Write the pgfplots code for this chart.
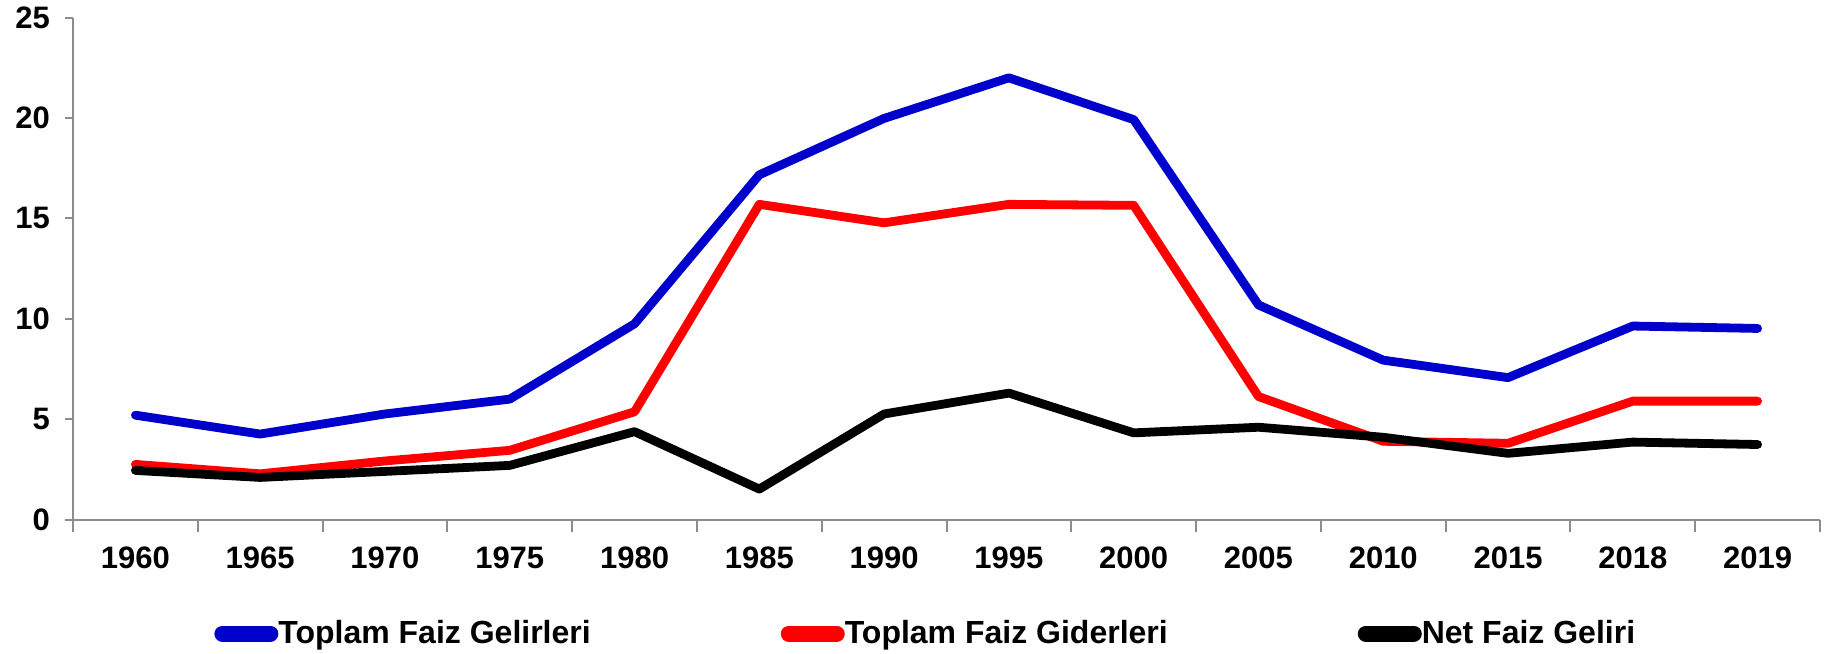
\documentclass[border=0pt]{standalone}
\usepackage{pgfplots}
\pgfplotsset{compat=1.18}
\usepackage{fontspec}
\setmainfont{Liberation Sans}
\definecolor{serblue}{HTML}{0000CC}
\definecolor{axgray}{HTML}{8C8C8C}
\begin{document}
\begin{tikzpicture}
\begin{axis}[
  scale only axis,
  width=873.5pt,
  height=251pt,
  axis lines=left,
  axis line style={-, draw=axgray, line width=1pt},
  xmin=-0.5, xmax=13.5,
  ymin=0, ymax=25,
  ytick={0,5,10,15,20,25},
  xtick={0,...,13},
  xticklabels={1960,1965,1970,1975,1980,1985,1990,1995,2000,2005,2010,2015,2018,2019},
  minor xtick={-0.5,0.5,...,13.5},
  tick align=outside,
  major tick length=4pt,
  minor tick length=6pt,
  x tick style={draw=none},
  minor x tick style={draw=axgray, line width=1pt},
  y tick style={draw=axgray, line width=1pt},
  ticklabel style={font=\fontsize{15.5}{17}\selectfont\bfseries},
  /pgf/number format/assume math mode=true,
  xticklabel style={yshift=-6pt},
  yticklabel style={xshift=-4pt},
  clip=false,
  legend columns=3,
  legend style={at={(rel axis cs:0.0807,-0.227)}, anchor=west, draw=none,
    font=\fontsize{16}{18}\selectfont\bfseries,
    /tikz/every odd column/.append style={column sep=0pt},
    /tikz/every even column/.append style={column sep=95pt},
    inner xsep=0pt, nodes={inner xsep=0pt}},
  legend cell align=left,
  legend image code/.code={\draw[#1, line cap=round, line width=8pt] (2pt,0pt) -- (26pt,0pt);},
  every axis plot/.append style={line width=4.4pt, line join=round, line cap=round, mark=none},
]
\addplot[serblue] coordinates {(0,5.2) (1,4.26) (2,5.26) (3,6.0) (4,9.75) (5,17.17) (6,19.98) (7,22.0) (8,19.92) (9,10.69) (10,7.94) (11,7.07) (12,9.64) (13,9.52)};
\addlegendentry{Toplam Faiz Gelirleri}
\addplot[red] coordinates {(0,2.75) (1,2.28) (2,2.92) (3,3.45) (4,5.37) (5,15.7) (6,14.78) (7,15.7) (8,15.65) (9,6.13) (10,3.9) (11,3.8) (12,5.9) (13,5.9)};
\addlegendentry{Toplam Faiz Giderleri}
\addplot[black] coordinates {(0,2.45) (1,2.1) (2,2.4) (3,2.7) (4,4.38) (5,1.52) (6,5.26) (7,6.3) (8,4.32) (9,4.6) (10,4.1) (11,3.3) (12,3.86) (13,3.74)};
\addlegendentry{Net Faiz Geliri}
\end{axis}
\pgfresetboundingbox
\path (-36.5pt,-67pt) rectangle (884pt,259.8pt);
\end{tikzpicture}
\end{document}
